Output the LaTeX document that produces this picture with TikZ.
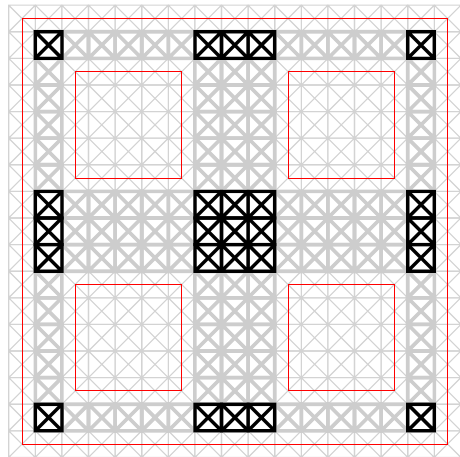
\documentclass[tikz,border=0pt]{standalone}
\definecolor{thingray}{HTML}{D3D3D3}
\definecolor{thickgray}{HTML}{CDCDCD}
\tikzset{
  thincell/.style={draw=thingray,line width=1.1pt},
  thickcell/.style={draw=thickgray,line width=3.6pt},
  blackcell/.style={draw=black,line width=3.2pt},
  redbox/.style={draw=red,line width=1pt,line join=miter},
}
% a cell with its two diagonals, at grid column #2 and row #3
\newcommand{\xcell}[3]{\draw[#1] (#2,#3) rectangle ++(1,1) (#2,#3) -- ++(1,1) (#2+1,#3) -- ++(-1,1);}
\begin{document}
\begin{tikzpicture}[x=26.6pt,y=-26.6pt]
\useasboundingbox[fill=white] (-0.3271,-0.1955) rectangle (16.9662,16.9850);
\begin{scope}
\clip (-0.3271,-0.1955) rectangle (16.9662,16.9850);
% thin mesh
\foreach \c in {0,...,16} \foreach \r in {0,...,16} {\xcell{thincell}{\c}{\r}}
% red outlines
\draw[redbox] (0.5,0.5) rectangle (16.5,16.5);
\foreach \c in {2.5,10.5} \foreach \r in {2.5,10.5} {\draw[redbox] (\c,\r) rectangle ++(4,4);}
% thick strips
\foreach \r in {1,7,8,9,15} \foreach \c in {1,...,15} {\xcell{thickcell}{\c}{\r}}
\foreach \c in {1,7,8,9,15} \foreach \r in {1,...,15} {\xcell{thickcell}{\c}{\r}}
% black cells
\foreach \c in {1,7,8,9,15} \foreach \r in {1,7,8,9,15} {\xcell{blackcell}{\c}{\r}}
\end{scope}
\end{tikzpicture}
\end{document}
